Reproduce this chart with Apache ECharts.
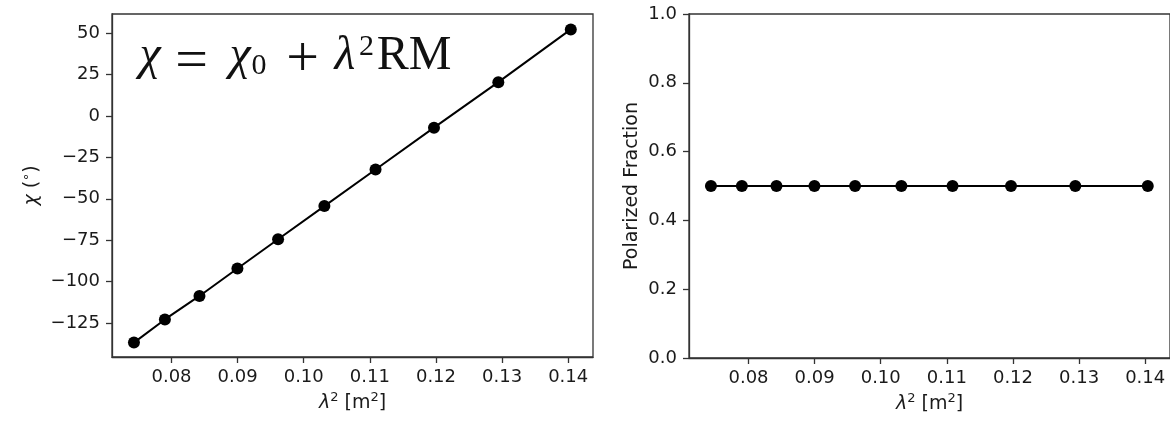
<!DOCTYPE html>
<html>
<head>
<meta charset="utf-8">
<script src="https://cdn.jsdelivr.net/npm/echarts@6/dist/echarts.min.js"></script>
<style>
  html, body { margin: 0; padding: 0; background: #fff; }
  #chart { width: 1170px; height: 421px; }
</style>
</head>
<body>
<div id="chart"></div>
<script>
// lambda^2 [m^2] of each channel
const lambdaSq = [0.07432, 0.07900, 0.08423, 0.08997, 0.09612, 0.10312, 0.11086, 0.11970, 0.12943, 0.14039]
// polarization angle chi [deg]
const chiDeg = [-136.9, -122.9, -108.7, -92.1, -74.4, -54.4, -32.3, -7.0, 20.5, 52.4]
// polarized fraction
const polFrac = [0.5, 0.5, 0.5, 0.5, 0.5, 0.5, 0.5, 0.5, 0.5, 0.5]

const xTicks = [0.08, 0.09, 0.10, 0.11, 0.12, 0.13, 0.14]
const chiTicks = [-125, -100, -75, -50, -25, 0, 25, 50]
const fracTicks = [0.0, 0.2, 0.4, 0.6, 0.8, 1.0]

const ink = '#1a1a1a'
const spine = '#333'
const tickFont = { fontFamily: 'DejaVu Sans', fontSize: 18, color: ink }

const minus = (s) => s.replace('-', '\u2212')

const supRich = {
  i: { fontFamily: 'DejaVu Sans', fontStyle: 'italic', fontSize: 19, color: ink, lineHeight: 24 },
  t: { fontFamily: 'DejaVu Sans', fontSize: 19, color: ink, lineHeight: 24 },
  sup: { fontFamily: 'DejaVu Sans', fontSize: 13, color: ink, verticalAlign: 'top', lineHeight: 24 },
}

const makeX = (gridIndex) => ({
  type: 'value',
  gridIndex,
  min: 0.0710,
  max: 0.14375,
  name: '{i|λ}{sup|2}{t| [m}{sup|2}{t|]}',
  nameLocation: 'middle',
  nameGap: 33,
  nameTextStyle: { rich: supRich },
  splitLine: { show: false },
  axisLine: { show: true, onZero: false, lineStyle: { color: spine, width: 1.3 } },
  axisTick: { show: true, length: 6, lineStyle: { color: spine, width: 1.3 }, customValues: xTicks },
  axisLabel: { ...tickFont, margin: 11, customValues: xTicks, formatter: (v) => v.toFixed(2) },
})

// equation pieces: [text, center x, middle y, size, italic]
const eqFont = 'Liberation Serif'
const eqPieces = [
  ['χ', 150, 56, 48, true],
  ['=', 191.5, 63, 58, false],
  ['χ', 240, 56, 48, true],
  ['0', 259, 66, 30, false],
  ['+', 302.5, 61, 58, false],
  ['λ', 345, 56, 48, true],
  ['2', 366.5, 47, 30, false],
  ['RM', 414, 56, 48, false],
]

const option = {
  animation: false,
  backgroundColor: '#fff',
  grid: [
    { left: 112, top: 14, width: 481, height: 343, show: true, borderColor: spine, borderWidth: 1.3, containLabel: false },
    { left: 689, top: 14, width: 482, height: 344, show: true, borderColor: spine, borderWidth: 1.3, containLabel: false },
  ],
  xAxis: [makeX(0), makeX(1)],
  yAxis: [
    {
      type: 'value',
      gridIndex: 0,
      min: -145.6,
      max: 61.7,
      name: '{i|χ}{t| (}{sup|∘}{t|)}',
      nameLocation: 'middle',
      nameGap: 68,
      nameTextStyle: { rich: supRich },
      splitLine: { show: false },
      axisLine: { show: true, onZero: false, lineStyle: { color: spine, width: 1.3 } },
      axisTick: { show: true, length: 6, lineStyle: { color: spine, width: 1.3 }, customValues: chiTicks },
      axisLabel: { ...tickFont, margin: 12, customValues: chiTicks, formatter: (v) => minus(String(v)) },
    },
    {
      type: 'value',
      gridIndex: 1,
      min: 0,
      max: 1,
      name: 'Polarized Fraction',
      nameLocation: 'middle',
      nameGap: 47,
      nameTextStyle: { fontFamily: 'DejaVu Sans', fontSize: 19, color: ink },
      splitLine: { show: false },
      axisLine: { show: true, onZero: false, lineStyle: { color: spine, width: 1.3 } },
      axisTick: { show: true, length: 6, lineStyle: { color: spine, width: 1.3 }, customValues: fracTicks },
      axisLabel: { ...tickFont, margin: 12, customValues: fracTicks, formatter: (v) => v.toFixed(1) },
    },
  ],
  graphic: eqPieces.map(([text, x, y, size, italic]) => ({
    type: 'text',
    x,
    y,
    style: {
      text,
      fontFamily: eqFont,
      fontSize: size,
      fontStyle: italic ? 'italic' : 'normal',
      fill: '#111',
      align: 'center',
      verticalAlign: 'middle',
    },
  })),
  series: [
    {
      type: 'line',
      xAxisIndex: 0,
      yAxisIndex: 0,
      data: lambdaSq.map((x, i) => [x, chiDeg[i]]),
      symbol: 'circle',
      symbolSize: 12,
      lineStyle: { color: '#000', width: 2 },
      itemStyle: { color: '#000' },
    },
    {
      type: 'line',
      xAxisIndex: 1,
      yAxisIndex: 1,
      data: lambdaSq.map((x, i) => [x, polFrac[i]]),
      symbol: 'circle',
      symbolSize: 12,
      lineStyle: { color: '#000', width: 2 },
      itemStyle: { color: '#000' },
    },
  ],
}

const chart = echarts.init(document.getElementById('chart'))
chart.setOption(option)
</script>
</body>
</html>
